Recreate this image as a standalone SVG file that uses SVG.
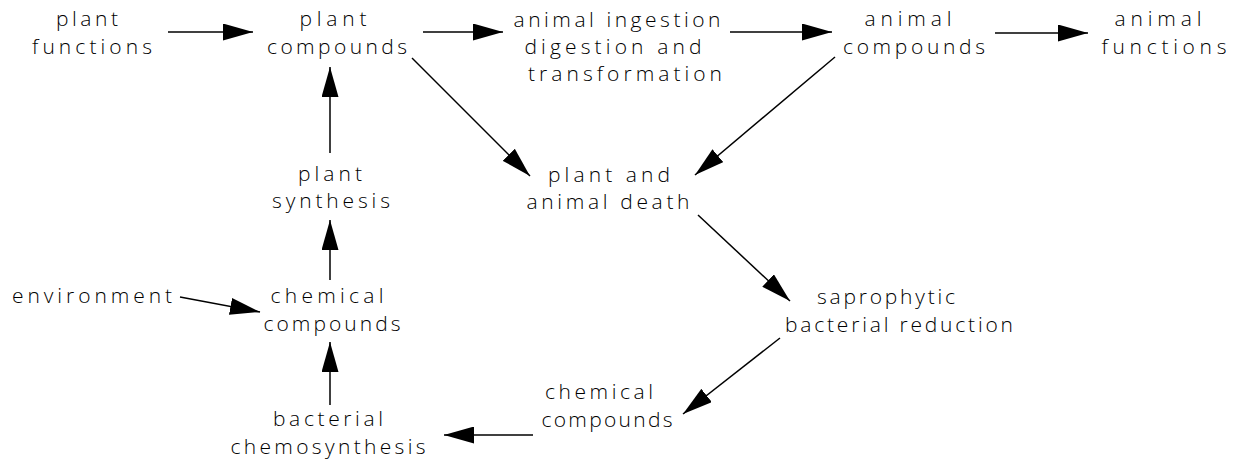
<svg xmlns="http://www.w3.org/2000/svg" width="1243" height="464" viewBox="0 0 1243 464">
<style>
text{font-family:"Open Sans","Liberation Sans",Arial,sans-serif;font-weight:300;font-size:21px;fill:#000;text-anchor:middle}
.c{stroke:#000;stroke-width:1.5;fill:none;marker-end:url(#ah)}
</style>
<defs>
<marker id="ah" viewBox="0 0 30 17" refX="30" refY="8.5" markerWidth="30" markerHeight="17" markerUnits="userSpaceOnUse" orient="auto">
<path d="M0,0 L30,8.5 L0,17 Z" fill="#000"/>
</marker>
</defs>
<rect width="1243" height="464" fill="#fff"/>
<g id="plant-functions"><text x="87" y="26" textLength="62" lengthAdjust="spacing">plant</text><text x="92" y="54" textLength="120" lengthAdjust="spacing">functions</text></g>
<g id="plant-compounds"><text x="333" y="26" textLength="67" lengthAdjust="spacing">plant</text><text x="337" y="54" textLength="140" lengthAdjust="spacing">compounds</text></g>
<g id="animal-ingestion"><text x="617" y="27" textLength="207" lengthAdjust="spacing">animal ingestion</text><text x="613" y="54" textLength="177" lengthAdjust="spacing">digestion and</text><text x="625" y="81" textLength="194" lengthAdjust="spacing">transformation</text></g>
<g id="animal-compounds"><text x="908" y="26" textLength="87" lengthAdjust="spacing">animal</text><text x="914" y="54" textLength="142" lengthAdjust="spacing">compounds</text></g>
<g id="animal-functions"><text x="1158" y="26" textLength="87" lengthAdjust="spacing">animal</text><text x="1164" y="54" textLength="125" lengthAdjust="spacing">functions</text></g>
<g id="plant-synthesis"><text x="330" y="181" textLength="64" lengthAdjust="spacing">plant</text><text x="331" y="208" textLength="118" lengthAdjust="spacing">synthesis</text></g>
<g id="death"><text x="609" y="182" textLength="122" lengthAdjust="spacing">plant and</text><text x="608" y="209" textLength="163" lengthAdjust="spacing">animal death</text></g>
<g id="environment"><text x="92" y="303" textLength="160" lengthAdjust="spacing">environment</text></g>
<g id="chemical-compounds-1"><text x="327" y="303" textLength="113" lengthAdjust="spacing">chemical</text><text x="332" y="331" textLength="137" lengthAdjust="spacing">compounds</text></g>
<g id="saprophytic"><text x="886" y="304" textLength="138" lengthAdjust="spacing">saprophytic</text><text x="899" y="332" textLength="228" lengthAdjust="spacing">bacterial reduction</text></g>
<g id="bacterial-chemosynthesis"><text x="328" y="426" textLength="110" lengthAdjust="spacing">bacterial</text><text x="328" y="454" textLength="195" lengthAdjust="spacing">chemosynthesis</text></g>
<g id="chemical-compounds-2"><text x="599" y="399" textLength="108" lengthAdjust="spacing">chemical</text><text x="607" y="427" textLength="131" lengthAdjust="spacing">compounds</text></g>
<g id="connectors">
<line class="c" x1="168" y1="32" x2="253" y2="32"/>
<line class="c" x1="423" y1="32" x2="503" y2="32"/>
<line class="c" x1="730" y1="32" x2="832" y2="32"/>
<line class="c" x1="995" y1="33" x2="1088" y2="33"/>
<line class="c" x1="412" y1="58" x2="530" y2="176"/>
<line class="c" x1="835" y1="57" x2="695" y2="175"/>
<line class="c" x1="698" y1="215" x2="790" y2="301"/>
<line class="c" x1="780" y1="338" x2="683" y2="414"/>
<line class="c" x1="533" y1="435" x2="444" y2="435"/>
<line class="c" x1="330" y1="405" x2="330" y2="342"/>
<line class="c" x1="330" y1="280" x2="330" y2="220"/>
<line class="c" x1="330" y1="153" x2="330" y2="67"/>
<line class="c" x1="180" y1="297" x2="260" y2="312"/>
</g>
</svg>
